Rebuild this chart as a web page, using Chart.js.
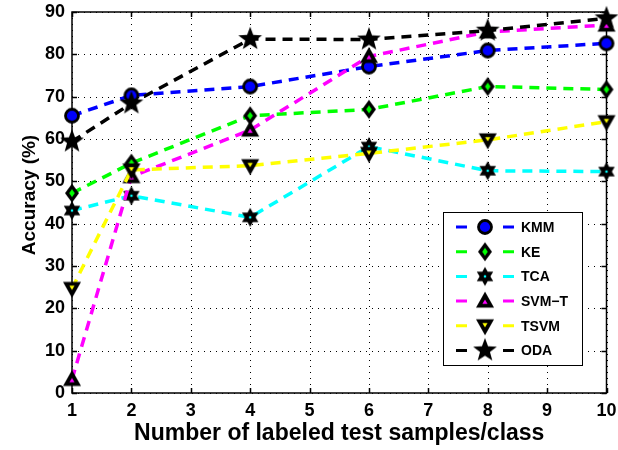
<!DOCTYPE html>
<html>
<head>
<meta charset="utf-8">
<script src="https://cdn.jsdelivr.net/npm/chart.js@4/dist/chart.umd.min.js"></script>
<style>
  html, body { margin: 0; padding: 0; background: #fff; }
  #wrap { width: 618px; height: 450px; }
</style>
</head>
<body>
<div id="wrap"><canvas id="c" width="618" height="450"></canvas></div>
<script>
const samples = [1, 2, 4, 6, 8, 10];
const kmm  = [65.5, 70.3, 72.4, 77.1, 80.9, 82.6];
const ke   = [47.2, 54.3, 65.5, 67.0, 72.4, 71.7];
const tca  = [43.1, 46.6, 41.5, 58.2, 52.5, 52.3];
const svmt = [3.2, 51.1, 62.1, 79.5, 85.3, 86.9];
const tsvm = [24.7, 52.7, 53.7, 56.6, 59.8, 64.1];
const oda  = [59.4, 68.4, 83.6, 83.5, 85.6, 88.5];
const xTicks = [1, 2, 3, 4, 5, 6, 7, 8, 9, 10];
const yTicks = [0, 10, 20, 30, 40, 50, 60, 70, 80, 90];
const xTitle = 'Number of labeled test samples/class';
const yTitle = 'Accuracy (%)';

const FONT = '"Liberation Sans", Arial, sans-serif';

// marker images, drawn like matlab's thick-edged markers
function marker(shape, fill) {
  const s = 28, c = document.createElement('canvas');
  c.width = s; c.height = s;
  const g = c.getContext('2d');
  const m = s / 2;
  g.strokeStyle = '#000';
  g.fillStyle = fill;
  function poly(pts) {
    g.beginPath();
    pts.forEach((p, i) => i ? g.lineTo(p[0], p[1]) : g.moveTo(p[0], p[1]));
    g.closePath();
  }
  function star(n, ro, ri, rot) {
    const pts = [];
    for (let i = 0; i < n * 2; i++) {
      const r = i % 2 ? ri : ro;
      const a = rot + i * Math.PI / n;
      pts.push([m + r * Math.cos(a), m + r * Math.sin(a)]);
    }
    poly(pts);
  }
  if (shape === 'circle') {
    g.beginPath(); g.arc(m, m, 6.5, 0, Math.PI * 2);
    g.fill(); g.lineWidth = 2.8; g.stroke();
  } else if (shape === 'diamond') {
    poly([[m, m - 9.5], [m + 7, m], [m, m + 9.5], [m - 7, m]]);
    g.fillStyle = '#000'; g.fill();
    poly([[m, m - 4], [m + 2.8, m], [m, m + 4], [m - 2.8, m]]);
    g.fillStyle = fill; g.fill();
  } else if (shape === 'hexagram') {
    star(6, 9.5, 5.4, -Math.PI / 2);
    g.fillStyle = '#000'; g.fill();
    g.beginPath(); g.arc(m, m, 1.3, 0, Math.PI * 2);
    g.fillStyle = fill; g.fill();
  } else if (shape === 'up' || shape === 'down') {
    const d = shape === 'up' ? 1 : -1;
    poly([[m, m - 9.5 * d], [m + 9, m + 6.5 * d], [m - 9, m + 6.5 * d]]);
    g.fillStyle = '#000'; g.fill();
    poly([[m, m - 1.5 * d], [m + 2.6, m + 2.8 * d], [m - 2.6, m + 2.8 * d]]);
    g.fillStyle = fill; g.fill();
  } else if (shape === 'pentagram') {
    star(5, 12.5, 5.2, -Math.PI / 2);
    g.fillStyle = '#000'; g.fill();
  }
  return c;
}

const series = [
  { label: 'KMM',   data: kmm,  color: '#0000ff', pt: marker('circle', '#0000ff') },
  { label: 'KE',    data: ke,   color: '#00ff00', pt: marker('diamond', '#00ff00') },
  { label: 'TCA',   data: tca,  color: '#00ffff', pt: marker('hexagram', '#00ffff') },
  { label: 'SVM\u2212T', data: svmt, color: '#ff00ff', pt: marker('up', '#ff00ff') },
  { label: 'TSVM',  data: tsvm, color: '#ffff00', pt: marker('down', '#ffff00') },
  { label: 'ODA',   data: oda,  color: '#000000', pt: marker('pentagram', '#000') }
];

// dotted grid, box, inward ticks, axis titles and legend
const frame = {
  id: 'frame',
  beforeDatasetsDraw(chart) {
    const { ctx, chartArea: a, scales: { x, y } } = chart;
    ctx.save();
    ctx.strokeStyle = '#000';
    ctx.lineWidth = 1;
    ctx.setLineDash([1, 5]);
    xTicks.forEach(v => {
      const px = Math.round(x.getPixelForValue(v)) + 0.5;
      ctx.beginPath(); ctx.moveTo(px, a.top); ctx.lineTo(px, a.bottom); ctx.stroke();
    });
    yTicks.forEach(v => {
      const py = Math.round(y.getPixelForValue(v)) + 0.5;
      ctx.beginPath(); ctx.moveTo(a.left, py); ctx.lineTo(a.right, py); ctx.stroke();
    });
    ctx.setLineDash([]);
    ctx.lineWidth = 1.5;
    ctx.beginPath();
    xTicks.forEach(v => {
      const px = Math.round(x.getPixelForValue(v)) + 0.5;
      ctx.moveTo(px, a.bottom); ctx.lineTo(px, a.bottom - 5);
      ctx.moveTo(px, a.top); ctx.lineTo(px, a.top + 5);
    });
    yTicks.forEach(v => {
      const py = Math.round(y.getPixelForValue(v)) + 0.5;
      ctx.moveTo(a.left, py); ctx.lineTo(a.left + 5, py);
      ctx.moveTo(a.right, py); ctx.lineTo(a.right - 5, py);
    });
    ctx.stroke();
    ctx.strokeRect(a.left, a.top, a.right - a.left, a.bottom - a.top);

    ctx.fillStyle = '#000';
    ctx.textAlign = 'center';
    ctx.textBaseline = 'alphabetic';
    ctx.font = 'bold 23px ' + FONT;
    ctx.fillText(xTitle, (a.left + a.right) / 2, 440);
    ctx.font = 'bold 19px ' + FONT;
    ctx.translate(35, 195);
    ctx.rotate(-Math.PI / 2);
    ctx.fillText(yTitle, 0, 0);
    ctx.restore();
  },
  afterDraw(chart) {
    const { ctx } = chart;
    const bx = 443, by = 212, bw = 139, bh = 153;
    ctx.save();
    ctx.fillStyle = '#fff';
    ctx.fillRect(bx, by, bw, bh);
    ctx.strokeStyle = '#000';
    ctx.lineWidth = 1;
    ctx.strokeRect(bx + 0.5, by + 0.5, bw, bh);
    ctx.font = 'bold 14px ' + FONT;
    ctx.textBaseline = 'middle';
    series.forEach((s, i) => {
      const yy = 227 + i * 24.7;
      ctx.strokeStyle = s.color;
      ctx.lineWidth = 3;
      ctx.beginPath();
      ctx.moveTo(456, yy); ctx.lineTo(467, yy);
      ctx.moveTo(503, yy); ctx.lineTo(514, yy);
      ctx.stroke();
      ctx.drawImage(s.pt, 485 - s.pt.width / 2, yy - s.pt.height / 2);
      ctx.fillStyle = '#000';
      ctx.fillText(s.label, 521, yy + 1);
    });
    ctx.restore();
  }
};

new Chart(document.getElementById('c'), {
  type: 'line',
  data: {
    datasets: series.map((s, i) => ({
      label: s.label,
      data: samples.map((v, j) => ({ x: v, y: s.data[j] })),
      borderColor: s.color,
      backgroundColor: s.color,
      borderWidth: 3.5,
      borderDash: [10, 7],
      pointStyle: s.pt,
      pointRadius: 8,
      pointHoverRadius: 8,
      tension: 0,
      fill: false,
      clip: false,
      order: series.length - i
    }))
  },
  options: {
    responsive: false,
    animation: false,
    events: [],
    layout: { padding: { top: 12, right: 11, left: 0, bottom: 0 } },
    plugins: { legend: { display: false }, tooltip: { enabled: false } },
    scales: {
      x: {
        type: 'linear', min: 1, max: 10,
        afterBuildTicks: (sc) => { sc.ticks = xTicks.map(v => ({ value: v })); },
        afterFit: (sc) => { sc.height = 57; sc.paddingLeft = 0; sc.paddingRight = 0; },
        grid: { display: false, drawTicks: false },
        border: { display: false },
        ticks: { color: '#000', font: { family: FONT, size: 18, weight: 'bold' }, padding: 7, maxRotation: 0 }
      },
      y: {
        min: 0, max: 90,
        afterBuildTicks: (sc) => { sc.ticks = yTicks.map(v => ({ value: v })); },
        afterFit: (sc) => { sc.width = 72; sc.paddingTop = 0; sc.paddingBottom = 0; },
        grid: { display: false, drawTicks: false },
        border: { display: false },
        ticks: { color: '#000', font: { family: FONT, size: 18, weight: 'bold' }, padding: 7 }
      }
    }
  },
  plugins: [frame]
});
</script>
</body>
</html>
